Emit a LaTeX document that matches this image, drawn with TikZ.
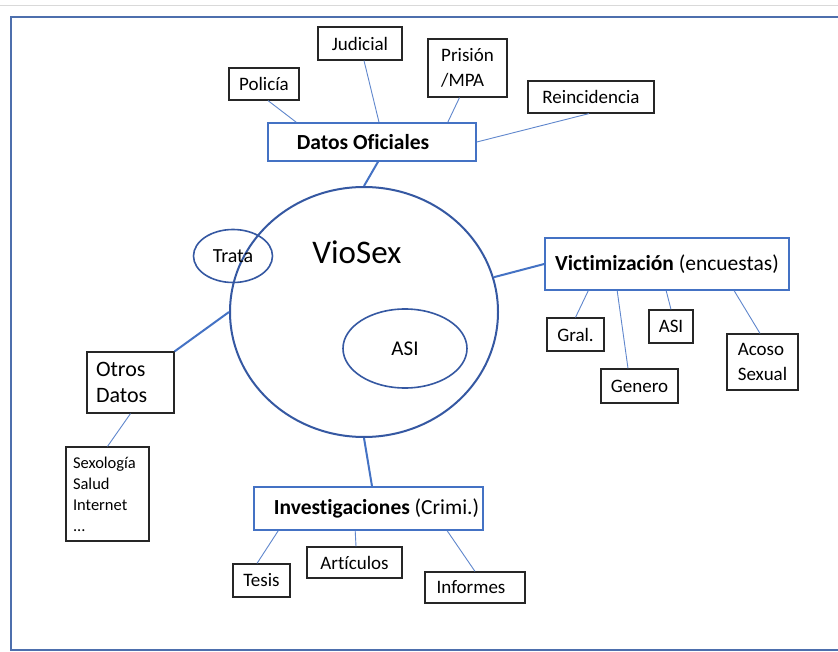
\documentclass[tikz,border=0pt]{standalone}
\usepackage{fontspec}
\setmainfont{Carlito}[Ligatures=NoCommon]
\usetikzlibrary{positioning,calc,shapes.geometric}

\definecolor{frameblue}{HTML}{4D6FAD}
\definecolor{ringblue}{HTML}{3558A2}
\definecolor{lineblue}{HTML}{4472C4}
\definecolor{boxblue}{HTML}{4472C4}

\tikzset{
  smallbox/.style={draw=black!85, line width=1.2pt, inner sep=0pt,
    font=\fontsize{19}{25}\selectfont},
  mainbox/.style={draw=boxblue, line width=1.6pt, inner sep=0pt,
    font=\fontsize{21.5}{26}\selectfont},
  ring/.style={draw=ringblue, line width=2pt, ellipse, inner sep=0pt},
  thinline/.style={draw=lineblue!85, line width=0.9pt},
  thickline/.style={draw=lineblue, line width=2pt}
}

\begin{document}
\begin{tikzpicture}[x=1pt, y=-1pt]
\clip (0,0) rectangle (838,652);
\fill[white] (0,0) rectangle (838,652);
\draw[black!15, line width=1.2pt] (0,5.5) -- (838,5.5);
\draw[frameblue, line width=2pt] (11,17) rectangle (860,650);

% centre
\node[ring, minimum width=268pt, minimum height=250pt] (vio) at (364,312) {};
\node[font=\fontsize{33}{38}\selectfont] (vsx) at (357,252) {VioSex};
\node[ring, line width=1.6pt, minimum width=79pt, minimum height=53pt,
  font=\fontsize{20}{24}\selectfont] (tra) at (233,256) {Trata};
\node[ring, line width=1.6pt, minimum width=124pt, minimum height=79pt,
  font=\fontsize{21}{25}\selectfont] (asi) at (405,348.5) {ASI};

% datos oficiales
\node[mainbox, minimum width=208pt, minimum height=38pt] (dat) at (372,142)
  {\textbf{Datos Oficiales}\hspace*{18pt}};
\node[smallbox, minimum width=70pt, minimum height=32pt] (pol) at (264,84) {Policía};
\node[smallbox, minimum width=84pt, minimum height=33pt] (jud) at (360,43.5) {Judicial};
\node[smallbox, minimum width=79pt, minimum height=58pt, align=left] (pri) at (467.5,68)
  {Prisión\\/MPA};
\node[smallbox, minimum width=126pt, minimum height=32pt] (rei) at (591,97) {Reincidencia};

% victimizacion
\node[mainbox, minimum width=244pt, minimum height=52pt] (vic) at (667,264)
  {\textbf{Victimización} (encuestas)};
\node[smallbox, minimum width=57pt, minimum height=33pt] (gra) at (575.5,334.5) {Gral.};
\node[smallbox, minimum width=77pt, minimum height=34pt] (gen) at (639.5,386) {Genero};
\node[smallbox, minimum width=44pt, minimum height=33pt] (asv) at (671,326.5) {ASI};
\node[smallbox, minimum width=71pt, minimum height=56pt, align=left] (aco) at (762.5,362)
  {Acoso\\Sexual};

% otros datos
\node[smallbox, text width=69pt, inner xsep=9pt, minimum height=61pt, align=left,
  font=\fontsize{22}{26}\selectfont] (otr) at (130.5,382.5) {Otros\\Datos};
\node[smallbox, text width=69pt, inner xsep=7pt, minimum height=94pt, align=left,
  font=\fontsize{16.5}{21}\selectfont] (sex) at (107.5,494)
  {Sexología\\Salud\\Internet\\...};

% investigaciones
\node[mainbox, minimum width=229pt, minimum height=43pt] (inv) at (368.5,508.5)
  {\hspace*{16pt}\textbf{Investigaciones} (Crimi.)};
\node[smallbox, minimum width=57pt, minimum height=33pt] (tes) at (261.5,580.5) {Tesis};
\node[smallbox, minimum width=95pt, minimum height=31pt] (art) at (354.5,562.5) {Artículos};
\node[smallbox, minimum width=100pt, minimum height=31pt] (inf) at (475,587.5)
  {Informes\hspace*{8pt}};

% connectors
\draw[thickline] ($(dat.south)+(6,0)$) -- (vio.north);
\draw[thickline] (vio.15) -- (vic.west);
\draw[thickline] (vio.west) -- (otr.north east);
\draw[thickline] (vio.south) -- ($(inv.north)+(3.5,0)$);

\draw[thinline] ($(pol.south)+(4,0)$) -- ($(dat.north west)+(29,0)$);
\draw[thinline] ($(jud.south)+(4,0)$) -- ($(dat.north)+(7,0)$);
\draw[thinline] ($(pri.south)+(-8,0)$) -- ($(dat.north east)+(-29,0)$);
\draw[thinline] ($(rei.south)+(-2,0)$) -- (dat.east);

\draw[thinline] ($(vic.south west)+(44,0)$) -- (gra.north);
\draw[thinline] ($(vic.south west)+(73,0)$) -- ($(gen.north)+(-11.5,0)$);
\draw[thinline] ($(vic.south west)+(122,0)$) -- (asv.north);
\draw[thinline] ($(vic.south west)+(190,0)$) -- ($(aco.north)+(-2.5,0)$);

\draw[thinline] (otr.south) -- (sex.north);

\draw[thinline] ($(inv.south west)+(25,0)$) -- ($(tes.north)+(-4.5,0)$);
\draw[thinline] ($(inv.south west)+(102,0)$) -- ($(art.north)+(1.5,0)$);
\draw[thinline] ($(inv.south west)+(194,0)$) -- (inf.north);
\end{tikzpicture}
\end{document}
